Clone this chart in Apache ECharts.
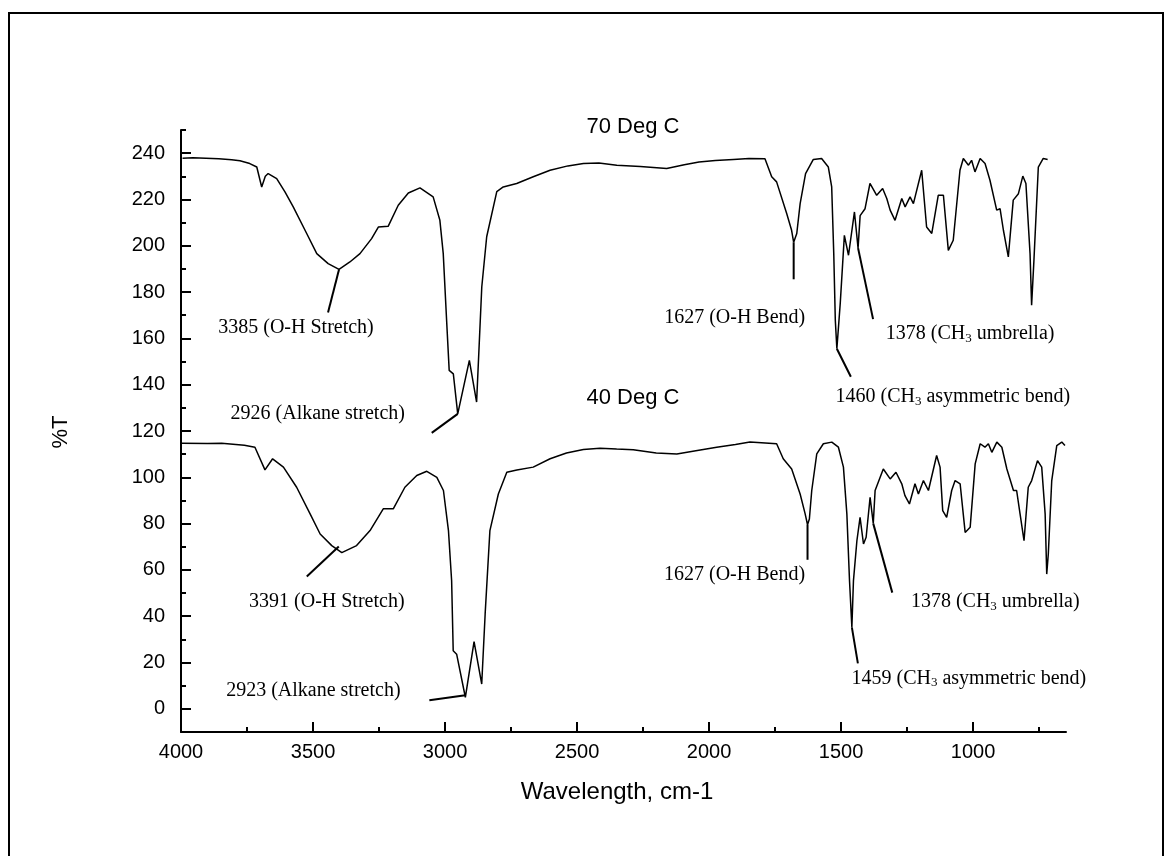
<!DOCTYPE html>
<html>
<head>
<meta charset="utf-8">
<title>FTIR spectra, 70 Deg C and 40 Deg C</title>
<script src="https://cdn.jsdelivr.net/npm/echarts@6/dist/echarts.min.js"></script>
<style>
  html, body { margin: 0; padding: 0; background: #fff; }
  #chart { width: 1165px; height: 856px; }
</style>
</head>
<body>
<div id="chart"></div>
<script>
// Axis ticks (wavenumber, cm-1 and %T)
const xTicks = [4000, 3500, 3000, 2500, 2000, 1500, 1000];
const xMinorTicks = [3750, 3250, 2750, 2250, 1750, 1250, 750];
const yTicks = [0, 20, 40, 60, 80, 100, 120, 140, 160, 180, 200, 220, 240];
const yMinorTicks = [10, 30, 50, 70, 90, 110, 130, 150, 170, 190, 210, 230, 250];

// 70 Deg C spectrum: wavenumber (cm-1) and %T
const wn70 = [3990, 3950, 3850, 3800, 3768, 3730, 3703, 3684, 3670, 3659, 3626, 3594, 3562, 3510, 3471, 3427,
  3385, 3343, 3304, 3259, 3233, 3195, 3156, 3117, 3072, 3021, 2995, 2982, 2969, 2959, 2943, 2926,
  2881, 2853, 2833, 2814, 2775, 2750, 2698, 2634, 2569, 2500, 2440, 2380, 2311, 2220, 2118, 2050,
  1993, 1930, 1860, 1800, 1738, 1712, 1693, 1654, 1635, 1627, 1615, 1602, 1581, 1551, 1519, 1493,
  1480, 1472, 1466, 1460, 1447, 1431, 1415, 1392, 1378, 1370, 1351, 1332, 1306, 1283, 1267, 1254,
  1235, 1209, 1196, 1177, 1164, 1132, 1113, 1093, 1068, 1048, 1029, 1010, 984, 971, 951, 939,
  926, 906, 887, 868, 842, 829, 816, 797, 778, 758, 741, 729, 713, 707, 698, 681, 662, 645];
const t70 = [237.8, 238.0, 237.6, 237.2, 236.7, 235.5, 234.0, 225.4, 230.0, 231.2, 229.0, 223.3, 216.8, 205.3, 196.6, 192.3,
  189.8, 193.0, 196.6, 203.1, 208.1, 208.4, 217.5, 222.8, 225.0, 221.1, 211.0, 196.6, 167.8, 146.2, 144.7, 127.4,
  150.5, 132.5, 182.2, 203.9, 223.4, 225.4, 226.9, 229.8, 232.6, 234.5, 235.5, 235.7, 234.8, 234.2, 233.4, 235.0,
  236.2, 236.8, 237.3, 237.7, 237.6, 229.8, 227.6, 213.9, 206.7, 201.5, 205.3, 218.2, 231.2, 237.3, 237.7, 234.0,
  225.4, 196.6, 167.8, 155.5, 175.0, 204.5, 195.9, 214.6, 199.0, 213.0, 216.0, 226.9, 221.8, 224.7, 220.4, 215.4,
  211.0, 220.4, 216.8, 221.1, 218.2, 232.6, 208.1, 205.3, 221.8, 221.8, 198.0, 202.4, 232.6, 237.7, 234.8, 236.9,
  231.9, 237.7, 235.5, 228.3, 215.4, 216.0, 206.7, 195.2, 219.7, 222.5, 230.1, 226.9, 196.6, 174.3, 193.7, 234.0, 237.7, 237.3];

// 40 Deg C spectrum: wavenumber (cm-1) and %T
const wn40 = [3997, 3900, 3846, 3760, 3720, 3682, 3653, 3612, 3562, 3511, 3473, 3429, 3391, 3335, 3284, 3234,
  3196, 3152, 3107, 3069, 3031, 3006, 2987, 2975, 2969, 2956, 2923, 2890, 2861, 2848, 2830, 2798,
  2766, 2728, 2666, 2602, 2540, 2476, 2413, 2350, 2287, 2200, 2122, 2050, 1971, 1900, 1845, 1744,
  1719, 1687, 1655, 1636, 1627, 1620, 1611, 1592, 1567, 1535, 1510, 1491, 1478, 1468, 1459, 1453,
  1440, 1428, 1415, 1405, 1390, 1378, 1371, 1340, 1314, 1292, 1270, 1258, 1241, 1220, 1207, 1188,
  1169, 1138, 1125, 1115, 1100, 1081, 1068, 1049, 1030, 1011, 992, 973, 955, 942, 929, 910,
  891, 872, 847, 835, 822, 807, 791, 778, 756, 740, 727, 721, 715, 702, 683, 664, 652];
const t40 = [114.7, 114.6, 114.7, 113.8, 113.0, 103.2, 108.0, 104.4, 95.7, 84.2, 75.5, 70.5, 67.5, 70.5, 77.0, 86.4,
  86.4, 95.7, 100.8, 102.6, 100.0, 94.3, 77.0, 55.4, 25.1, 23.6, 5.0, 29.0, 10.7, 41.0, 77.0, 92.8,
  102.2, 103.2, 104.4, 108.0, 110.5, 112.0, 112.6, 112.2, 111.9, 110.5, 110.1, 111.5, 113.0, 114.2, 115.2, 114.5,
  108.0, 103.6, 92.8, 84.2, 79.5, 82.0, 94.3, 110.1, 114.5, 115.2, 113.0, 104.4, 84.2, 55.4, 35.2, 55.4,
  72.6, 82.7, 71.2, 74.1, 91.4, 80.0, 94.3, 103.6, 99.3, 102.2, 97.2, 92.1, 88.5, 97.2, 92.8, 98.6,
  94.3, 109.4, 104.4, 85.6, 82.7, 94.3, 98.6, 97.2, 76.2, 78.4, 105.8, 114.5, 113.0, 114.5, 110.8, 115.2,
  113.0, 103.6, 94.3, 94.3, 84.2, 72.6, 95.7, 98.6, 107.2, 104.4, 84.2, 58.2, 66.9, 98.6, 113.7, 115.2, 113.7];

// Band assignments
const notes70Wn = [3385, 2926, 1627, 1378, 1460];
const notes70Text = ['3385 (O-H Stretch)', '2926 (Alkane stretch)', '1627 (O-H Bend)',
  '1378 (CH{s|3} umbrella)', '1460 (CH{s|3} asymmetric bend)'];
const notes40Wn = [3391, 2923, 1627, 1378, 1459];
const notes40Text = ['3391 (O-H Stretch)', '2923 (Alkane stretch)', '1627 (O-H Bend)',
  '1378 (CH{s|3} umbrella)', '1459 (CH{s|3} asymmetric bend)'];

const SANS = '"Liberation Sans", Arial, sans-serif';
const SERIF = '"Liberation Serif", "Times New Roman", serif';

// leader start (dx,dy), leader end (dx,dy), label centre (dx,dy), relative to the band point
const layout70 = [
  [0, 0, -11, 43, -43, 58],
  [0, 0, -26, 19, -140, 0],
  [0, 0, 0, 37, -59, 75],
  [0, 0, 15, 71, 112, 86],
  [0, 0, 14, 28, 116, 48]
];
const layout40 = [
  [-3, -6, -35, 24, -15, 49],
  [0, -2, -36, 3, -152, -7],
  [0, 0, 0, 35, -73, 50],
  [0, 0, 19, 69, 122, 78],
  [0, 0, 6, 36, 117, 51]
];

const pairs = (xs, ys) => xs.map((x, i) => [x, ys[i]]);
const black = '#000';

const chart = echarts.init(document.getElementById('chart'), null, { renderer: 'canvas' });

const tickLabel = { fontSize: 20, fontFamily: SANS, color: black, formatter: v => String(v) };

chart.setOption({
  animation: false,
  backgroundColor: '#fff',
  grid: { left: 181, right: 99, top: 130, bottom: 124 },
  xAxis: [
    {
      type: 'value', inverse: true, min: 648, max: 4000, position: 'bottom',
      axisLine: { onZero: false, lineStyle: { color: black, width: 2 } },
      axisTick: { inside: true, length: 10, customValues: xTicks, lineStyle: { color: black, width: 2 } },
      axisLabel: Object.assign({ customValues: xTicks, margin: 10 }, tickLabel),
      splitLine: { show: false }
    },
    {
      type: 'value', inverse: true, min: 648, max: 4000, position: 'bottom',
      axisLine: { show: false, onZero: false },
      axisTick: { inside: true, length: 5, customValues: xMinorTicks, lineStyle: { color: black, width: 2 } },
      axisLabel: { show: false },
      splitLine: { show: false }
    },
    {
      // wavenumber scale of the 70 Deg C trace
      type: 'value', inverse: true, min: 574, max: 3996, show: false, position: 'bottom',
      axisLine: { onZero: false }, splitLine: { show: false }
    }
  ],
  yAxis: [
    {
      type: 'value', min: -10, max: 250, position: 'left',
      axisLine: { show: true, onZero: false, lineStyle: { color: black, width: 2 } },
      axisTick: { show: true, inside: true, length: 10, customValues: yTicks, lineStyle: { color: black, width: 2 } },
      axisLabel: Object.assign({ customValues: yTicks, margin: 16 }, tickLabel),
      splitLine: { show: false }
    },
    {
      type: 'value', min: -10, max: 250, position: 'left',
      axisLine: { show: false, onZero: false },
      axisTick: { show: true, inside: true, length: 5, customValues: yMinorTicks, lineStyle: { color: black, width: 2 } },
      axisLabel: { show: false },
      splitLine: { show: false }
    }
  ],
  series: [
    {
      name: '70 Deg C', type: 'line', xAxisIndex: 2, yAxisIndex: 0,
      data: pairs(wn70, t70), showSymbol: false, symbol: 'none',
      lineStyle: { color: black, width: 1.5 }
    },
    {
      name: '40 Deg C', type: 'line', xAxisIndex: 0, yAxisIndex: 0,
      data: pairs(wn40, t40), showSymbol: false, symbol: 'none',
      lineStyle: { color: black, width: 1.5 }
    }
  ]
});

// Annotations: leader lines and band labels anchored to the spectra
const graphics = [];
graphics.push({
  type: 'rect', shape: { x: 9, y: 13, width: 1154, height: 900 },
  style: { fill: null, stroke: black, lineWidth: 2 }, silent: true
});

function addNotes(wnArr, tArr, xAxisIndex, wns, texts, layout) {
  wns.forEach((wn, k) => {
    const t = tArr[wnArr.indexOf(wn)];
    const p = chart.convertToPixel({ xAxisIndex: xAxisIndex, yAxisIndex: 0 }, [wn, t]);
    const L = layout[k];
    graphics.push({
      type: 'line',
      shape: { x1: p[0] + L[0], y1: p[1] + L[1], x2: p[0] + L[2], y2: p[1] + L[3] },
      style: { stroke: black, lineWidth: 2 }, silent: true
    });
    graphics.push({
      type: 'text', x: p[0] + L[4], y: p[1] + L[5], silent: true,
      style: {
        text: texts[k], fill: black, font: '20px ' + SERIF,
        align: 'center', verticalAlign: 'middle', lineHeight: 22,
        rich: {
          s: { fontSize: 13, fontFamily: SERIF, fill: black, lineHeight: 10, verticalAlign: 'bottom' }
        }
      }
    });
  });
}
addNotes(wn70, t70, 2, notes70Wn, notes70Text, layout70);
addNotes(wn40, t40, 0, notes40Wn, notes40Text, layout40);

// Spectrum titles and axis names
graphics.push({
  type: 'text', x: 633, y: 127, silent: true,
  style: { text: '70 Deg C', font: '22px ' + SANS, fill: black, align: 'center', verticalAlign: 'middle' }
});
graphics.push({
  type: 'text', x: 633, y: 398, silent: true,
  style: { text: '40 Deg C', font: '22px ' + SANS, fill: black, align: 'center', verticalAlign: 'middle' }
});
graphics.push({
  type: 'text', x: 617, y: 792, silent: true,
  style: { text: 'Wavelength, cm-1', font: '24px ' + SANS, fill: black, align: 'center', verticalAlign: 'middle' }
});
graphics.push({
  type: 'text', x: 61, y: 432, rotation: Math.PI / 2, silent: true,
  style: { text: '%T', font: '22px ' + SANS, fill: black, align: 'center', verticalAlign: 'middle' }
});

chart.setOption({ graphic: graphics });
</script>
</body>
</html>
